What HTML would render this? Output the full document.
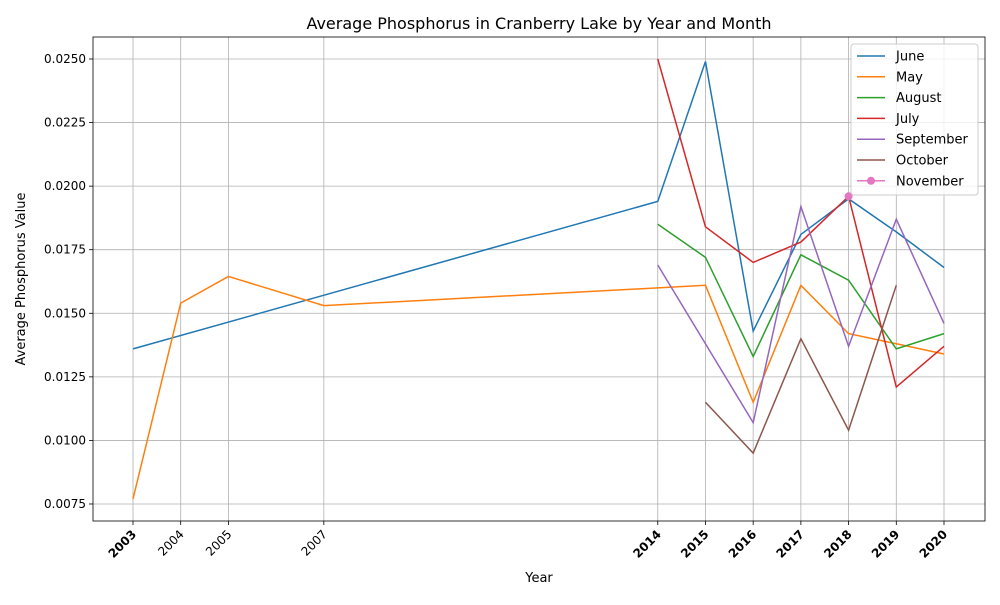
<!DOCTYPE html>
<html><head><meta charset="utf-8"><style>
body{margin:0;background:#fff;font-family:"Liberation Sans","DejaVu Sans",sans-serif}
svg text{font-family:"DejaVu Sans","Liberation Sans",sans-serif}
</style></head><body>
<svg id="chart" width="1000" height="600" xmlns="http://www.w3.org/2000/svg"></svg>
<script>
const yearsTicks=[2003,2004,2005,2007,2014,2015,2016,2017,2018,2019,2020];
const boldTicks=[2003,2014,2015,2016,2017,2018,2019,2020];
const yTicks=[0.0075,0.0100,0.0125,0.0150,0.0175,0.0200,0.0225,0.0250];
const juneYears=[2003,2014,2015,2016,2017,2018,2019,2020];
const juneVals=[0.0136,0.0194,0.0249,0.0143,0.0181,0.0195,0.0182,0.0168];
const mayYears=[2003,2004,2005,2007,2014,2015,2016,2017,2018,2019,2020];
const mayVals=[0.0077,0.0154,0.01645,0.0153,0.0160,0.0161,0.0115,0.0161,0.0142,0.0138,0.0134];
const augYears=[2014,2015,2016,2017,2018,2019,2020];
const augVals=[0.0185,0.0172,0.0133,0.0173,0.0163,0.0136,0.0142];
const julYears=[2014,2015,2016,2017,2018,2019,2020];
const julVals=[0.0250,0.0184,0.0170,0.0178,0.0196,0.0121,0.0137];
const sepYears=[2014,2016,2017,2018,2019,2020];
const sepVals=[0.0169,0.0107,0.0192,0.0137,0.0187,0.0146];
const octYears=[2015,2016,2017,2018,2019];
const octVals=[0.0115,0.0095,0.0140,0.0104,0.0161];
const novYears=[2018];
const novVals=[0.0196];
const series=[
 ["June","#1f77b4",juneYears,juneVals],["May","#ff7f0e",mayYears,mayVals],
 ["August","#2ca02c",augYears,augVals],["July","#d62728",julYears,julVals],
 ["September","#9467bd",sepYears,sepVals],["October","#8c564b",octYears,octVals],
 ["November","#e377c2",novYears,novVals]];
const L=93,T=37,R=985,B=521;
const X=y=>133+(y-2003)*(811/17);
const Y=v=>59+(0.025-v)/0.0025*63.57;
const svg=document.getElementById('chart');
const NS="http://www.w3.org/2000/svg";
function mk(tag,attrs,txt){const e=document.createElementNS(NS,tag);for(const k in attrs)e.setAttribute(k,attrs[k]);if(txt!==undefined)e.textContent=txt;svg.appendChild(e);return e;}
yearsTicks.forEach(y=>{
 const g=mk('line',{x1:X(y),x2:X(y),y1:T,y2:B,stroke:'#b0b0b0','stroke-width':0.8});
 
 
 mk('line',{x1:X(y),x2:X(y),y1:B,y2:B+4,stroke:'#000','stroke-width':0.8});
 const t=mk('text',{x:X(y)+4,y:B+14,'font-size':12,'text-anchor':'end','font-weight':boldTicks.includes(y)?'bold':'normal',transform:`rotate(-45 ${X(y)+4} ${B+14})`},String(y));
 
 
});
yTicks.forEach(v=>{
 const g=mk('line',{x1:L,x2:R,y1:Y(v),y2:Y(v),stroke:'#b0b0b0','stroke-width':0.8});
 
 
 mk('line',{x1:L-4,x2:L,y1:Y(v),y2:Y(v),stroke:'#000','stroke-width':0.8});
 const t=mk('text',{x:L-7,y:Y(v)+4,'font-size':12,'text-anchor':'end'},v.toFixed(4));
 
 
});
series.forEach(([name,c,xs,vs])=>{
 const p=mk('polyline',{points:xs.map((x,i)=>X(x)+','+Y(vs[i])).join(' '),fill:'none',stroke:c,'stroke-width':1.5});
 
 
 if(name==="November"){xs.forEach((x,i)=>{const m=mk('circle',{cx:X(x),cy:Y(vs[i]),r:4,fill:c});
  
  });}
});
const fr=mk('rect',{x:L,y:T,width:R-L,height:B-T,fill:'none',stroke:'#000','stroke-width':0.8});


const lg=mk('rect',{x:851,y:44,width:127,height:151,fill:'#fff','fill-opacity':0.8,stroke:'#ccc',rx:3});


series.forEach(([name,c],i)=>{
 const yy=56+i*20.8;
 mk('line',{x1:857,x2:885,y1:yy,y2:yy,stroke:c,'stroke-width':1.5});
 if(name==="November")mk('circle',{cx:871,cy:yy,r:4,fill:c});
 const t=mk('text',{x:896,y:yy+4.5,'font-size':13},name);
 
 
});
const ti=mk('text',{x:539,y:29,'font-size':16,'text-anchor':'middle'},'Average Phosphorus in Cranberry Lake by Year and Month');


const xt=mk('text',{x:539,y:582,'font-size':13,'text-anchor':'middle'},'Year');


const yt=mk('text',{x:25,y:279,'font-size':13,'text-anchor':'middle',transform:'rotate(-90 25 279)'},'Average Phosphorus Value');


</script>
</body></html>
